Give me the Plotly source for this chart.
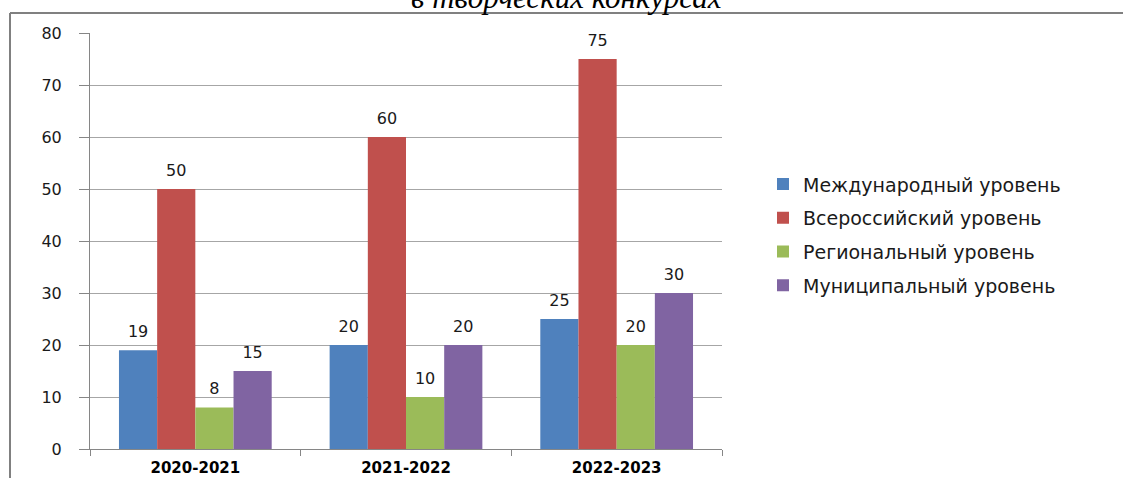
import plotly.graph_objects as go

categories = ["2020-2021", "2021-2022", "2022-2023"]
series_names = ["Международный уровень", "Всероссийский уровень",
                "Региональный уровень", "Муниципальный уровень"]
international = [19, 20, 25]
all_russian = [50, 60, 75]
regional = [8, 10, 20]
municipal = [15, 20, 30]
series_values = [international, all_russian, regional, municipal]
colors = ["#4F81BD", "#C0504D", "#9BBB59", "#8064A2"]
y_ticks = [0, 10, 20, 30, 40, 50, 60, 70, 80]

W, H = 1123, 478
L, T = 90, 33
R = 1123 - 722
B = 478 - 449

GAP = 0.275

fig = go.Figure()
for i, (name, vals, col) in enumerate(zip(series_names, series_values, colors)):
    fig.add_trace(go.Bar(
        x=categories, y=vals, name=name, legendgroup=name,
        marker=dict(color=col, line=dict(width=0)),
        offsetgroup=str(i),
    ))
for i, (name, vals) in enumerate(zip(series_names, series_values)):
    fig.add_trace(go.Scatter(
        x=categories, y=vals, name=name, legendgroup=name, showlegend=False,
        mode="markers+text", text=[str(v) for v in vals], textposition="top center",
        marker=dict(size=13, opacity=0), offsetgroup=str(i),
        textfont=dict(family="DejaVu Sans", size=16, color="#1a1a1a"),
        cliponaxis=False, hoverinfo="skip",
    ))

fig.update_layout(
    width=W, height=H,
    margin=dict(l=L, r=R, t=T, b=B, autoexpand=False),
    paper_bgcolor="white", plot_bgcolor="white",
    barmode="group", bargap=GAP, bargroupgap=0,
    scattermode="group", scattergap=GAP,
    showlegend=True,
    legend=dict(x=(763 - 90) / 632, y=0.515, xanchor="left", yanchor="middle",
                font=dict(family="DejaVu Sans", size=19, color="#1a1a1a"),
                tracegroupgap=6, itemwidth=30, bgcolor="rgba(0,0,0,0)"),
    xaxis=dict(
        type="category", showline=True, linecolor="#868686", linewidth=1,
        ticks="outside", tickson="boundaries", ticklen=6, tickcolor="#868686",
        tickfont=dict(family="DejaVu Sans", size=15, color="#000000", weight="bold"),
        ticklabelstandoff=5, showgrid=False, automargin=False,
    ),
    yaxis=dict(
        range=[0, 80], tickvals=y_ticks, showline=True, linecolor="#868686",
        ticks="outside", ticklen=10, tickcolor="#868686",
        showgrid=True, gridcolor="#A6A6A6", gridwidth=1,
        tickfont=dict(family="DejaVu Sans", size=16, color="#1a1a1a"),
        ticklabelstandoff=14, zeroline=False, automargin=False,
    ),
    font=dict(family="DejaVu Sans"),
)

# partial title above the frame (cut at the top edge, as in the reference)
fig.add_annotation(
    text="<i>в творческих конкурсах</i>", xref="paper", yref="paper",
    x=(566 - 90) / 632, y=1 + (33 - 17) / 416, xanchor="center", yanchor="bottom",
    showarrow=False, font=dict(family="Liberation Serif", size=31, color="#000000"),
)
# outer frame lines
fy = 1 + (33 - 13) / 416
fx = (10 - 90) / 632
fig.add_shape(type="line", xref="paper", yref="paper",
              x0=fx, x1=1.7, y0=fy, y1=fy, line=dict(color="#808080", width=2))
fig.add_shape(type="line", xref="paper", yref="paper",
              x0=fx, x1=fx, y0=fy, y1=-0.2, line=dict(color="#808080", width=2))

fig.write_html("out.html", config={"displayModeBar": False},
               post_script="document.body.style.margin='0';document.body.style.overflow='hidden';")
